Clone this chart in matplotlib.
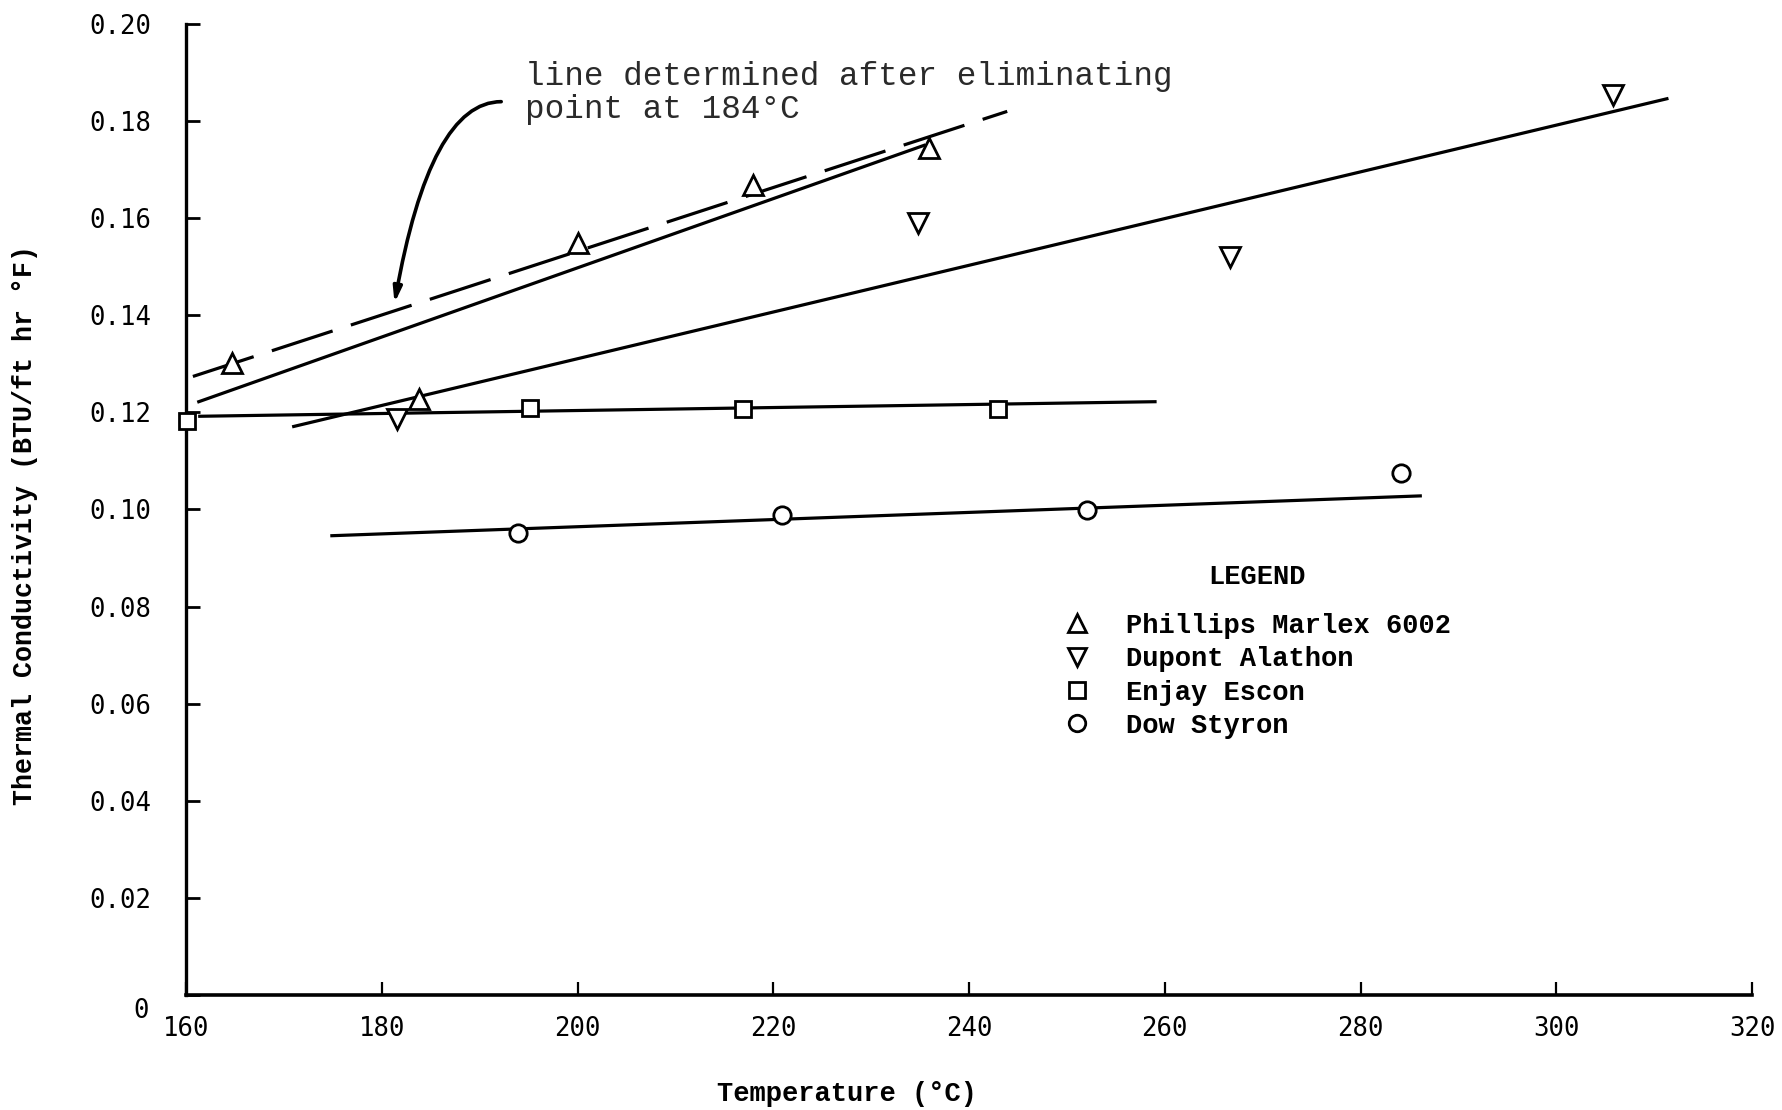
import matplotlib
matplotlib.use("Agg")
import matplotlib.pyplot as plt
import matplotlib.transforms as mtransforms

# ---------------- data ----------------
phillips_temp = [164.7, 183.8, 200.0, 217.9, 235.9]
phillips_k = [0.1302, 0.1228, 0.1549, 0.1668, 0.1745]

dupont_temp = [181.6, 234.8, 266.7, 305.8]
dupont_k = [0.1187, 0.1591, 0.1521, 0.1853]

enjay_temp = [160.1, 195.1, 216.9, 243.0]
enjay_k = [0.1182, 0.1210, 0.1206, 0.1206]

dow_temp = [193.9, 220.9, 252.0, 284.1]
dow_k = [0.0952, 0.0988, 0.0998, 0.1075]

# fitted lines (end points)
phillips_all_fit_t = [160.7, 243.9]
phillips_all_fit_k = [0.1274, 0.1820]
phillips_excl_fit_t = [161.3, 235.4]
phillips_excl_fit_k = [0.1222, 0.1750]
dupont_fit_t = [171.0, 311.3]
dupont_fit_k = [0.1171, 0.1846]
enjay_fit_t = [161.4, 259.0]
enjay_fit_k = [0.1192, 0.1222]
dow_fit_t = [174.9, 286.1]
dow_fit_k = [0.0946, 0.1028]

series_names = ["Phillips Marlex 6002", "Dupont Alathon", "Enjay Escon", "Dow Styron"]
x_ticks = [160, 180, 200, 220, 240, 260, 280, 300, 320]
y_ticks = [0, 0.02, 0.04, 0.06, 0.08, 0.10, 0.12, 0.14, 0.16, 0.18, 0.20]
y_tick_labels = ["0", "0.02", "0.04", "0.06", "0.08", "0.10", "0.12", "0.14",
                 "0.16", "0.18", "0.20"]

annotation_text = "line determined after eliminating\npoint at 184\u00b0C"

# ---------------- figure ----------------
TYPE = "Liberation Mono"
TICKFONT = "DejaVu Sans Mono"

fig = plt.figure(figsize=(17.82, 11.10), dpi=100)
ax = fig.add_axes([0.1044, 0.1036, 0.8788, 0.8748])

lw = 2.3
ax.plot(phillips_all_fit_t, phillips_all_fit_k, color="black", lw=lw,
        linestyle=(0, (20, 6)), zorder=2)
ax.plot(phillips_excl_fit_t, phillips_excl_fit_k, color="black", lw=lw, zorder=2)
ax.plot(dupont_fit_t, dupont_fit_k, color="black", lw=lw, zorder=2)
ax.plot(enjay_fit_t, enjay_fit_k, color="black", lw=lw, zorder=2)
ax.plot(dow_fit_t, dow_fit_k, color="black", lw=lw, zorder=2)

mkw = dict(linestyle="none", markerfacecolor="white", markeredgecolor="black",
           markeredgewidth=2.0, zorder=4, clip_on=False)
h1, = ax.plot(phillips_temp, phillips_k, marker="^", markersize=14,
              label=series_names[0], **mkw)
h2, = ax.plot(dupont_temp, dupont_k, marker="v", markersize=14,
              label=series_names[1], **mkw)
h3, = ax.plot(enjay_temp, enjay_k, marker="s", markersize=11.5,
              label=series_names[2], **mkw)
h4, = ax.plot(dow_temp, dow_k, marker="o", markersize=12.5,
              label=series_names[3], **mkw)

ax.set_xlim(160, 320)
ax.set_ylim(0, 0.20)

ax.set_xticks(x_ticks)
ax.set_xticklabels([str(t) for t in x_ticks])
ax.set_yticks(y_ticks)
ax.set_yticklabels(y_tick_labels)

for s in ["top", "right"]:
    ax.spines[s].set_visible(False)
ax.spines["left"].set_linewidth(2.4)
ax.spines["bottom"].set_linewidth(2.6)

ax.tick_params(axis="x", direction="in", length=9.5, width=1.6, pad=15,
               labelsize=18.5)
ax.tick_params(axis="y", direction="in", length=10, width=2.0, pad=25,
               labelsize=18.5)
for lab in ax.get_xticklabels() + ax.get_yticklabels():
    lab.set_fontfamily(TICKFONT)

# the "0" label sits a little lower than its tick
lab0 = ax.yaxis.get_major_ticks()[0].label1
lab0.set_transform(lab0.get_transform() +
                   mtransforms.ScaledTranslation(-0.02, -0.13, fig.dpi_scale_trans))

ax.set_xlabel("Temperature (\u00b0C)", fontfamily=TYPE, fontsize=19.5,
              fontweight="bold", va="center")
ax.xaxis.set_label_coords(0.422, -0.102)
ax.set_ylabel("Thermal Conductivity (BTU/ft hr \u00b0F)", fontfamily=TYPE,
              fontsize=19.2, fontweight="bold")
ax.yaxis.set_label_coords(-0.0948, 0.484)

# annotation with curved arrow
ax.text(194.6, 0.1858, annotation_text, fontfamily=TYPE, fontsize=23.5,
        color="#2a2a2a", ha="left", va="center", linespacing=1.1)
ax.annotate("", xy=(181.3, 0.1425), xytext=(192.2, 0.1840),
            arrowprops=dict(arrowstyle="-|>,head_length=0.9,head_width=0.25",
                            connectionstyle="angle3,angleA=0,angleB=80",
                            color="black", lw=2.6, shrinkA=0, shrinkB=0))

# legend
ax.text(0.684, 0.4305, "LEGEND", transform=ax.transAxes, fontfamily=TYPE,
        fontsize=19.5, fontweight="bold", ha="center", va="center")
leg = ax.legend(handles=[h1, h2, h3, h4], loc="upper left",
                bbox_to_anchor=(0.5604, 0.3935), frameon=False, borderpad=0,
                borderaxespad=0, handlelength=1.0, handletextpad=1.3,
                labelspacing=0.27, markerscale=0.95,
                prop={"family": TYPE, "size": 19.5, "weight": "bold"})

fig.savefig("out.png", dpi=100)
